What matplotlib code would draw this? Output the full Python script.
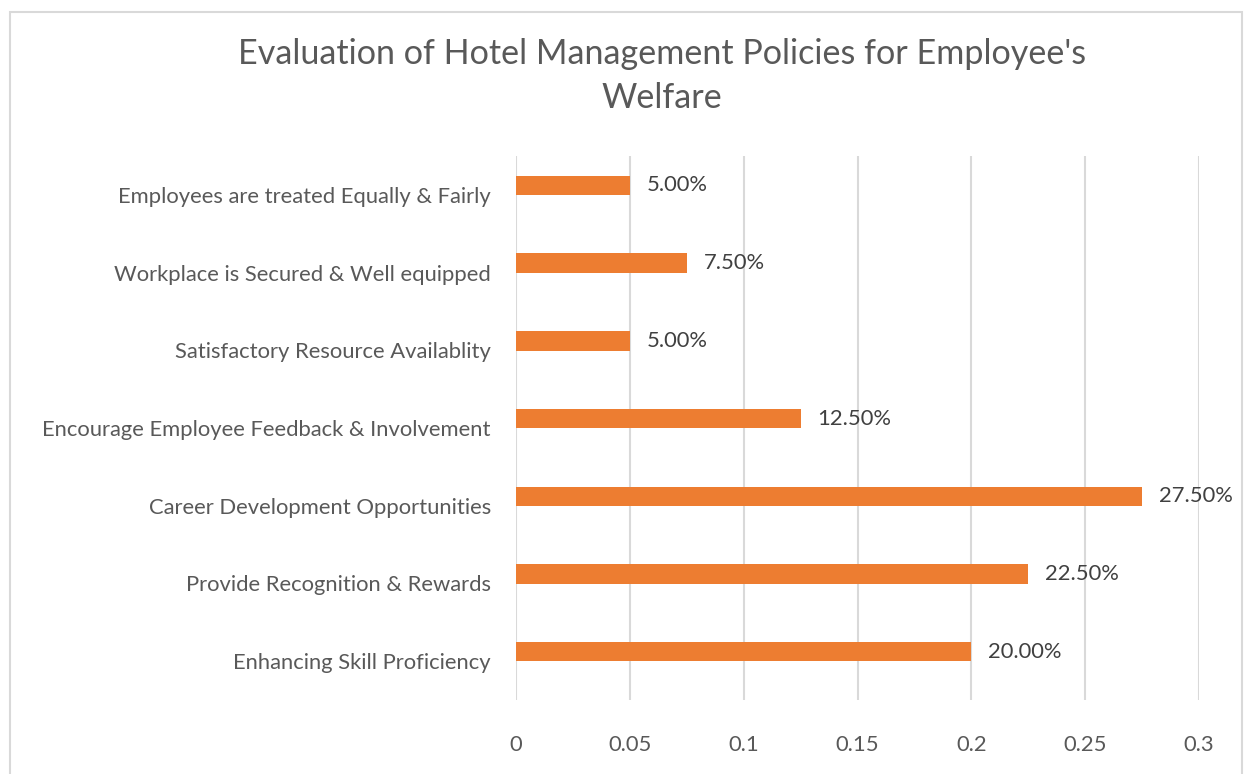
import matplotlib.pyplot as plt
from matplotlib.patches import Rectangle

plt.rcParams['font.family'] = ['Lato', 'DejaVu Sans']

# data, top to bottom as shown
categories = ['Employees are treated Equally & Fairly',
              'Workplace is Secured & Well equipped',
              'Satisfactory Resource Availablity',
              'Encourage Employee Feedback & Involvement',
              'Career Development Opportunities',
              'Provide Recognition & Rewards',
              'Enhancing Skill Proficiency']
shares = [0.05, 0.075, 0.05, 0.125, 0.275, 0.225, 0.20]
x_ticks = [0, 0.05, 0.1, 0.15, 0.2, 0.25, 0.3]
x_tick_labels = ['0', '0.05', '0.1', '0.15', '0.2', '0.25', '0.3']

W, H = 1244, 774
fig = plt.figure(figsize=(W / 100, H / 100), dpi=100)

# light chart border like the Excel chart area
fig.patches.append(Rectangle((10 / W, -0.01), (1242 - 10) / W, 1 - 12 / H + 0.01,
                             transform=fig.transFigure, fill=False,
                             edgecolor='#d9d9d9', linewidth=1.5))

ax = fig.add_axes([516 / W, 1 - 700 / H, 683 / W, 544 / H])

pos = list(range(len(categories)))
# bars sit a little above the category centre (Excel series gap)
bar_pos = [p - 0.122 for p in pos]
ax.barh(bar_pos, shares, height=0.25, color='#ED7D31', zorder=3)

for p, v in zip(bar_pos, shares):
    ax.annotate(f'{v * 100:.2f}%', (v, p), xytext=(12, 0), textcoords='offset points',
                va='center', ha='left', fontsize=15.8, color='#404040')

ax.set_xlim(0, 0.3)
ax.set_ylim(6.5, -0.5)
ax.set_xticks(x_ticks)
ax.set_xticklabels(x_tick_labels)
ax.set_yticks(pos)
ax.set_yticklabels(categories)
ax.tick_params(axis='x', length=0, pad=25, labelsize=15.8, labelcolor='#595959')
ax.tick_params(axis='y', length=0, pad=18, labelsize=15.8, labelcolor='#595959')
ax.grid(axis='x', color='#d9d9d9', linewidth=1.5, zorder=0)
for s in ax.spines.values():
    s.set_visible(False)

fig.text(662 / W, 1 - 76 / H, "Evaluation of Hotel Management Policies for Employee's\nWelfare",
         ha='center', va='center', fontsize=24.6, color='#595959', linespacing=1.45)

fig.savefig('out.png', dpi=100)
